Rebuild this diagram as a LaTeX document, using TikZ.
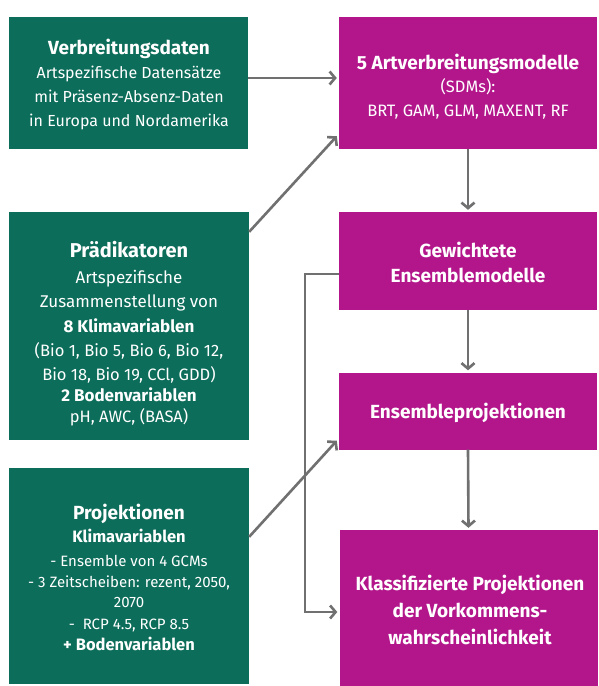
\documentclass[tikz,border=0pt]{standalone}
\usepackage{fontspec}
\setmainfont{Fira Sans}
\usetikzlibrary{arrows.meta}
\definecolor{grn}{HTML}{0C6D5A}
\definecolor{mag}{HTML}{B3168B}
\definecolor{arr}{HTML}{707070}
\tikzset{
  gbox/.style={fill=grn, draw=none, inner sep=0pt, minimum width=#1},
  mbox/.style={fill=mag, draw=none, inner sep=0pt, minimum width=#1},
  txt/.style={text=white, align=center, inner sep=0pt, font=\fontsize{16}{#1}\selectfont},
  conn/.style={draw=arr, line width=2.6pt, -{Straight Barb[length=5.5pt,width=13pt]}},
}
\newcommand{\fs}[1]{\fontsize{#1}{#1}\selectfont}
\begin{document}
\begin{tikzpicture}[x=1pt,y=-1pt]
\useasboundingbox[fill=white] (0,0) rectangle (598,686);
% left boxes
\node[gbox=239pt, minimum height=132pt] (b1) at (128.5,83) {};
\node[txt=24] (b1t) at (129,84)
  {{\fs{19}\bfseries Verbreitungsdaten}\\ {\fs{16}Artspezifische Datensätze}\\ {\fs{16}mit Präsenz-Absenz-Daten}\\ {\fs{16}in Europa und Nordamerika}};
\node[gbox=240pt, minimum height=228pt] (b2) at (129,326) {};
\node[txt=24] (b2t) at (129,334)
  {{\fs{20}\bfseries Prädikatoren}\\[2pt] {\fs{17}Artspezifische}\\ {\fs{17}Zusammenstellung von}\\[1pt] {\fs{17}\bfseries 8 Klimavariablen}\\ {\fs{16.5}(Bio 1, Bio 5, Bio 6, Bio 12,}\\ {\fs{16.5}Bio 18, Bio 19, CCl, GDD)}\\[-3pt] {\fs{17}\bfseries 2 Bodenvariablen}\\[-3pt] {\fs{16.5}pH, AWC, (BASA)}};
\node[gbox=240pt, minimum height=216pt] (b3) at (129,576) {};
\node[txt=22] (b3t) at (129,577.5)
  {{\fs{19}\bfseries Projektionen}\\[1pt] {\fs{16.5}\bfseries Klimavariablen}\\[2pt] {\fs{15}- Ensemble von 4 GCMs}\\[-1pt] {\fs{15}- 3 Zeitscheiben: rezent, 2050,}\\[-2pt] {\fs{15}2070}\\ {\fs{15}-\ \ RCP 4.5, RCP 8.5}\\[-1pt] {\fs{16.5}\bfseries + Bodenvariablen}};
% right boxes
\node[mbox=258pt, minimum height=132pt] (r1) at (468,83) {};
\node[txt=23.5] (r1t) at (468,86.5)
  {{\fs{19}\bfseries 5 Artverbreitungsmodelle}\\ {\fs{16.5}(SDMs):}\\ {\fs{16.5}BRT, GAM, GLM, MAXENT, RF}};
\node[mbox=258pt, minimum height=98pt] (r2) at (468,261) {};
\node[txt=25] (r2t) at (468,262.5)
  {{\fs{19}\bfseries Gewichtete}\\ {\fs{19}\bfseries Ensemblemodelle}};
\node[mbox=258pt, minimum height=77pt] (r3) at (468,411) {};
\node[txt=24] (r3t) at (468,413) {\fs{19}\bfseries Ensembleprojektionen};
\node[mbox=258pt, minimum height=156pt] (r4) at (468.5,608) {};
\node[txt=27] (r4t) at (470,610)
  {{\fs{19}\bfseries Klassifizierte Projektionen}\\ {\fs{19}\bfseries der Vorkommens-}\\ {\fs{19}\bfseries wahrscheinlichkeit}};
% connectors
\draw[conn] ([yshift=5pt]b1.east) -- ([xshift=-2pt,yshift=5pt]r1.west);
\draw[conn] ([yshift=-20pt]b2.north east) -- ([xshift=-2pt,yshift=13pt]r1.south west);
\draw[conn] (r1.south) -- ([yshift=2pt]r2.north);
\draw[conn] (r2.south) -- ([yshift=2pt]r3.north);
\draw[conn] (r3.south) -- ([yshift=2pt]r4.north);
\draw[conn] ([yshift=-69pt]b3.north east) -- ([xshift=-2pt,yshift=9pt]r3.south west);
\coordinate (k) at (305,612);
\draw[conn] ([yshift=-13pt]r2.west) -| (k) -- ([xshift=-2pt,yshift=-4pt]r4.west);
\end{tikzpicture}
\end{document}
